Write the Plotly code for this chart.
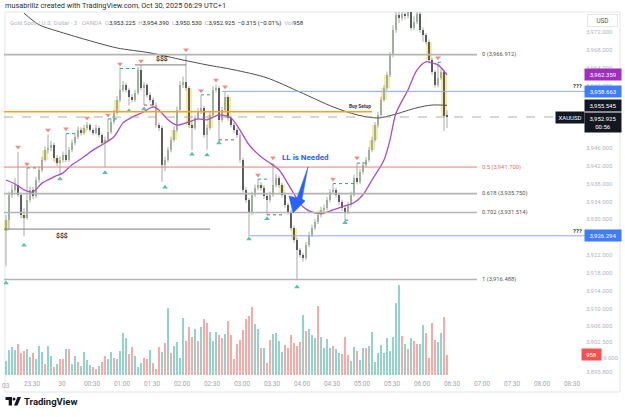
import plotly.graph_objects as go

# ---------------- data (3-minute candles, XAUUSD) ----------------
opens = [3927.4,3929.8,3935.5,3936.6,3937.7,3935.5,3930.9,3930.3,3934.3,3936.6,
3935.2,3938.8,3941.1,3943.3,3945.5,3946.0,3946.7,3943.7,3942.6,3943.3,
3944.4,3943.3,3945.5,3947.1,3948.5,3950.0,3949.4,3950.5,3951.1,3950.0,
3949.4,3950.5,3948.9,3947.1,3947.8,3949.6,3951.8,3953.8,3956.8,3959.0,
3960.1,3959.0,3957.4,3956.8,3958.3,3963.5,3959.4,3960.1,3957.9,3956.8,
3955.6,3951.1,3950.5,3942.2,3943.3,3945.5,3947.8,3950.0,3954.5,3960.1,
3960.8,3959.4,3951.1,3950.5,3952.7,3954.1,3954.9,3948.9,3950.5,3953.4,
3959.0,3959.4,3952.3,3954.5,3957.4,3952.7,3951.1,3950.0,3948.9,3943.3,
3936.6,3934.3,3931.4,3935.5,3937.0,3937.7,3937.0,3935.2,3934.3,3935.5,
3937.7,3939.3,3937.7,3935.5,3933.2,3931.6,3928.1,3925.4,3923.1,3922.0,
3921.3,3924.2,3926.5,3928.1,3929.4,3930.9,3932.1,3932.5,3934.3,3936.1,
3936.6,3935.5,3933.9,3932.5,3931.6,3933.2,3935.5,3939.3,3938.4,3940.6,
3942.2,3943.3,3945.5,3947.8,3951.1,3953.4,3956.8,3959.4,3962.4,3966.8,
3972.4,3975.8,3975.1,3976.0,3975.6,3976.5,3972.9,3974.2,3976.0,3972.4,
3971.3,3969.8,3965.7,3963.0,3960.1,3961.7,3963.0,3953.2]
highs = [3931.0,3936.2,3937.8,3939.2,3945.1,3936.0,3932.5,3941.5,3937.4,3937.3,
3939.5,3941.9,3944.0,3946.3,3949.0,3947.5,3947.2,3944.4,3944.1,3945.2,
3949.2,3946.2,3947.9,3949.3,3950.8,3950.6,3951.2,3951.8,3951.5,3950.4,
3951.2,3950.9,3949.3,3948.5,3952.5,3952.6,3954.6,3957.6,3964.0,3961.0,
3960.6,3959.5,3958.0,3959.0,3964.2,3964.6,3960.8,3960.5,3958.4,3957.3,
3956.2,3951.7,3951.0,3944.0,3946.2,3948.5,3950.8,3955.3,3961.0,3962.0,
3966.9,3959.9,3951.8,3953.4,3954.9,3957.9,3955.4,3951.2,3954.1,3959.8,
3960.2,3959.9,3955.2,3958.6,3957.9,3953.2,3951.6,3950.5,3949.4,3943.8,
3937.2,3934.8,3936.2,3937.8,3939.0,3938.3,3937.5,3935.8,3936.2,3942.6,
3940.2,3939.8,3938.2,3936.0,3933.7,3932.1,3928.6,3925.9,3923.6,3922.5,
3924.9,3927.2,3928.8,3930.1,3931.6,3932.8,3933.3,3935.0,3936.8,3938.0,
3937.1,3936.0,3934.4,3933.0,3933.9,3936.2,3940.0,3942.6,3941.3,3942.9,
3944.0,3946.2,3948.5,3951.8,3954.1,3957.5,3960.1,3963.1,3967.5,3973.5,
3977.5,3977.0,3977.8,3977.5,3978.0,3977.5,3975.5,3977.5,3976.8,3973.0,
3971.8,3970.3,3966.2,3963.5,3965.2,3963.7,3963.5,3954.4]
lows = [3919.5,3927.8,3934.8,3936.0,3935.0,3930.2,3926.1,3929.9,3933.8,3934.5,
3934.8,3938.2,3940.6,3942.9,3944.8,3945.2,3943.0,3941.9,3940.3,3942.7,
3942.8,3942.9,3945.0,3946.6,3948.0,3948.8,3948.9,3950.0,3949.5,3948.8,
3949.0,3948.3,3946.5,3941.7,3947.3,3949.1,3951.3,3953.3,3956.3,3958.5,
3958.4,3955.5,3956.2,3956.3,3957.9,3958.9,3955.6,3957.3,3956.2,3955.0,
3950.5,3949.8,3938.4,3940.8,3942.8,3945.0,3947.3,3949.5,3954.0,3959.4,
3958.8,3950.5,3945.5,3950.0,3952.2,3953.6,3948.3,3945.6,3950.0,3952.9,
3958.4,3947.3,3951.8,3954.0,3952.1,3950.6,3949.4,3948.3,3942.7,3936.0,
3933.7,3926.5,3930.9,3935.0,3936.5,3936.4,3934.6,3931.0,3933.8,3935.0,
3937.2,3937.1,3934.9,3932.6,3931.0,3927.5,3924.8,3916.5,3921.4,3920.5,
3920.8,3923.7,3926.0,3927.6,3928.9,3930.4,3931.6,3932.0,3933.8,3935.6,
3934.9,3933.3,3931.9,3929.8,3931.1,3932.7,3935.0,3937.8,3937.9,3940.1,
3941.7,3942.8,3945.0,3947.3,3950.6,3952.9,3956.3,3958.9,3961.9,3966.3,
3971.8,3974.0,3974.5,3974.8,3975.0,3972.3,3972.4,3973.7,3971.8,3969.8,
3969.2,3965.1,3962.4,3959.5,3959.6,3961.2,3949.8,3950.5]
closes = [3929.8,3935.5,3936.6,3937.7,3935.5,3930.9,3930.3,3934.3,3936.6,3935.2,
3938.8,3941.1,3943.3,3945.5,3946.0,3946.7,3943.7,3942.6,3943.3,3944.4,
3943.3,3945.5,3947.1,3948.5,3950.0,3949.4,3950.5,3951.1,3950.0,3949.4,
3950.5,3948.9,3947.1,3947.8,3949.6,3951.8,3953.8,3956.8,3959.0,3960.1,
3959.0,3957.4,3956.8,3958.3,3963.5,3959.4,3960.1,3957.9,3956.8,3955.6,
3951.1,3950.5,3942.2,3943.3,3945.5,3947.8,3950.0,3954.5,3960.1,3960.8,
3959.4,3951.1,3950.5,3952.7,3954.1,3954.9,3948.9,3950.5,3953.4,3959.0,
3959.4,3952.3,3954.5,3957.4,3952.7,3951.1,3950.0,3948.9,3943.3,3936.6,
3934.3,3931.4,3935.5,3937.0,3937.7,3937.0,3935.2,3934.3,3935.5,3937.7,
3939.3,3937.7,3935.5,3933.2,3931.6,3928.1,3925.4,3923.1,3922.0,3921.3,
3924.2,3926.5,3928.1,3929.4,3930.9,3932.1,3932.5,3934.3,3936.1,3936.6,
3935.5,3933.9,3932.5,3931.6,3933.2,3935.5,3939.3,3938.4,3940.6,3942.2,
3943.3,3945.5,3947.8,3951.1,3953.4,3956.8,3959.4,3962.4,3966.8,3972.4,
3975.8,3975.1,3976.0,3975.6,3976.5,3972.9,3974.2,3976.0,3972.4,3971.3,
3969.8,3965.7,3963.0,3960.1,3961.7,3963.0,3953.2,3952.925]

volumes = [688,1200,1328,1200,1488,1072,1168,1232,880,1040,
768,1392,1104,512,1392,912,400,528,752,752,
1248,1232,512,928,624,432,1104,704,464,384,
288,432,608,912,752,1104,800,752,1152,2032,
1760,992,1328,912,368,560,832,768,1200,560,
304,1360,1120,1536,3200,1056,1408,1584,816,2720,
1632,2288,1808,2224,1632,2288,2672,2480,2048,1648,
2048,1920,1792,1984,2592,1904,752,1504,1680,2160,
2672,2832,3248,2448,2192,1296,1296,592,1664,1968,
2000,1632,1120,1424,1296,1904,1552,1376,1584,2896,
2096,2192,1920,1760,3328,1840,1296,1712,1296,1376,
1232,1072,1008,1824,944,688,1360,1168,736,1296,
1296,1392,2064,624,1040,1424,1072,1776,1136,1840,
3472,4320,1888,1488,1248,1760,1648,1488,1488,2400,
2032,800,2480,1696,1600,2000,2768,958]
volume_dir = list("ggggrrrggr" "gggrggrgrr" "grggrggggr" "rgrrggrggg" "grrgggrrgr"
                  "rrgrgrgggg" "rrrgrgrrgg" "grrgrrrrrr" "rrrggrgrrg" "gggrrrrrrg"
                  "rgggrggggr" "ggrrrggrgg" "rggggggggg" "ggrgrgrrgg" "rrrrggrr")

highlight_yellow = [0,6,13,17,26,33,37,56,61,62,68,74,85,92,96,105,122,123,126,127,141,146]
highlight_pink = [50,78]

ema_idx = [0,3,6,9,12,16,19,22,26,29,32,36,39,42,46,49,51,54,57,60,64,67,71,75,78,81,
           85,88,91,95,97,99,102,106,109,112,116,119,122,126,128,130,134,137,140,142,144,147]
ema_val = [3938.8,3937.9,3936.6,3936.1,3938.1,3939.5,3940.4,3942.2,3944.0,3945.5,3946.7,3948.5,
           3951.6,3952.9,3954.1,3955.2,3954.5,3952.3,3951.1,3951.6,3952.5,3952.3,3953.4,3952.7,
           3950.0,3946.7,3944.0,3942.6,3941.1,3936.8,3934.6,3932.8,3931.6,3931.4,3932.1,3932.8,
           3933.7,3935.5,3938.8,3943.3,3947.8,3953.8,3959.0,3963.5,3965.3,3965.0,3964.6,3962.359]
sma_idx = [6,11,17,27,37,48,59,67,76,87,98,109,117,124,129,137,142,147]
sma_val = [3976.2,3973.6,3972.2,3970.2,3968.4,3967.3,3965.7,3964.6,3963.5,3961.7,3958.5,
           3955.2,3953.4,3952.7,3953.4,3955.0,3955.6,3955.545]

pivot_high_idx = [4,7,14,20,27,34,38,45,60,65,70,73,84,89,109,117,144]
pivot_high_px = [3946.2,3942.4,3950.0,3950.3,3952.7,3953.4,3964.8,3965.5,3968.0,3958.8,
                 3961.2,3959.7,3939.9,3943.8,3939.0,3943.8,3966.2]
pivot_low_idx = [0,6,18,33,41,46,53,62,67,71,81,87,97,113]
pivot_low_px = [3915.7,3924.2,3939.0,3940.4,3954.3,3954.7,3937.2,3944.6,3944.4,3947.1,
                3925.6,3930.1,3914.8,3929.2]

# dotted swing segments: (start index, end index, price)
swing_high_dots = [(7,10,3941.5),(20,24,3949.2),(34,37,3952.5),(38,44,3963.8),(65,68,3957.9),
                   (84,88,3939.0),(109,117,3938.0),(117,121,3942.6),(144,146,3965.2)]
swing_low_dots = [(46,49,3955.6),(71,76,3947.8),(87,92,3931.0),(113,115,3929.8)]

fib_ratio = ["0", "0.5", "0.618", "0.702", "1"]
fib_price = [3966.912, 3941.700, 3935.750, 3931.514, 3916.488]
buy_setup_price = 3954.1
question_prices = [3958.663, 3926.294]
question_start = [72, 80.7]
liquidity_prices = [3964.6, 3927.8]
liquidity_span = [(43, 60), (-0.67, 68)]
last_price = 3952.925
ema_last, sma_last = 3962.359, 3955.545
last_volume = 958

time_labels = ["23:30","30","00:30","01:00","01:30","02:00","02:30","03:00","03:30","04:00",
               "04:30","05:00","05:30","06:00","06:30","07:00","07:30","08:00","08:30"]
price_ticks = [3972,3968,3964,3960,3946,3942,3938,3934,3930,3922,3918,3914,3910,3906,3902.5,3895.8]
hidden_tick = 3899.0   # mostly covered by the volume label; only its tail shows

# ---------------- layout geometry ----------------
W, H = 625, 417
LM, RM, TM, BM = 4, 40, 12, 39
PW, PH = W - LM - RM, H - TM - BM
X0, X1 = -0.667, 193.0
Y0, Y1 = 3894.42, 3976.46
V0, V1 = -144, 17386

def pxx(xp):
    return (xp - LM) / PW

def pxy(yp):
    return (H - BM - yp) / PH

FONT = "Roboto"
GREEN = "#93bb8c"
BLACK = "#111111"
PINK = "#f3a3a3"
YELLOW = "#f8ec9c"
TEAL_V = "#92d3cc"
RED_V = "#f7aaa8"

N = len(closes)
idx = list(range(N))

fig = go.Figure()

# volume
fig.add_trace(go.Bar(x=idx, y=volumes, yaxis="y2", width=0.72,
                     marker=dict(color=[TEAL_V if d == "g" else RED_V for d in volume_dir], line_width=0),
                     hoverinfo="skip", showlegend=False))

# yellow highlight boxes behind candles
fig.add_trace(go.Bar(x=highlight_yellow,
                     y=[max(abs(closes[i] - opens[i]), 0.6) for i in highlight_yellow],
                     base=[min(closes[i], opens[i]) for i in highlight_yellow],
                     width=1.7, marker=dict(color=YELLOW, line_width=0), showlegend=False, hoverinfo="skip"))

# wicks
wx, wy = [], []
for i in idx:
    wx += [i, i, None]
    wy += [lows[i], highs[i], None]
fig.add_trace(go.Scatter(x=wx, y=wy, mode="lines", line=dict(color="#a9a9a9", width=1),
                         showlegend=False, hoverinfo="skip"))

# bodies
body_col = []
for i in idx:
    if i in highlight_pink:
        body_col.append(PINK)
    elif closes[i] >= opens[i]:
        body_col.append(GREEN)
    else:
        body_col.append(BLACK)
fig.add_trace(go.Bar(x=idx, y=[max(abs(c - o), 0.15) for o, c in zip(opens, closes)],
                     base=[min(o, c) for o, c in zip(opens, closes)], width=0.8,
                     marker=dict(color=body_col, line_width=0), showlegend=False, hoverinfo="skip"))

# moving averages
fig.add_trace(go.Scatter(x=sma_idx, y=sma_val, mode="lines", line=dict(color="#4d4d4d", width=1, shape="spline", smoothing=0.8),
                         showlegend=False, hoverinfo="skip"))
fig.add_trace(go.Scatter(x=ema_idx, y=ema_val, mode="lines", line=dict(color="#ad4cc8", width=1.3, shape="spline", smoothing=0.8),
                         showlegend=False, hoverinfo="skip"))

# pivot markers
fig.add_trace(go.Scatter(x=pivot_high_idx, y=pivot_high_px, mode="markers",
                         marker=dict(symbol="triangle-down", size=5, color="#f28b82"), showlegend=False, hoverinfo="skip"))
fig.add_trace(go.Scatter(x=pivot_low_idx, y=pivot_low_px, mode="markers",
                         marker=dict(symbol="triangle-up", size=5, color="#5bbfb0"), showlegend=False, hoverinfo="skip"))

shapes = []
def hline(x0, x1, y, color, width=1, dash="solid"):
    shapes.append(dict(type="line", xref="x", yref="y", x0=x0, x1=x1, y0=y, y1=y,
                       line=dict(color=color, width=width, dash=dash)))

FIB_END = 157
for r, p in zip(fib_ratio, fib_price):
    if r == "0.5":
        hline(X0, FIB_END, p, "#f47a7a", 1)
    else:
        hline(X0, FIB_END, p, "#b4b4b4", 1.6)
hline(X0, 122, buy_setup_price, "#ff9f1c", 1.6)
for p, s in zip(question_prices, question_start):
    hline(s, X1, p, "#8ea8ff", 1)
hline(X0, 183.3, last_price, "#9a9a9a", 0.8, "dash")
for p, (a, b) in zip(liquidity_prices, liquidity_span):
    hline(a, b, p, "#7a7a7a", 1)
for a, b, p in swing_high_dots:
    hline(a, b, p, "#26a69a", 1, "dot")
for a, b, p in swing_low_dots:
    hline(a, b, p, "#a0525a", 1, "dot")

# blue arrow drawing
shapes.append(dict(type="path", xref="x", yref="y",
                   path="M 100.67,3941.73 L 98.67,3934.56 L 99.67,3934.11 L 95.67,3931.42 L 94.33,3935.23 L 97,3934.78 Z",
                   fillcolor="#2962ff", line=dict(color="#2962ff", width=0.5)))

# frame
shapes.append(dict(type="rect", xref="paper", yref="paper", x0=pxx(5), x1=pxx(620), y0=pxy(392), y1=pxy(12),
                   line=dict(color="#e3e5ea", width=1), layer="below"))

# TradingView logo mark
def prect(x0, y0, x1, y1, color="#131722"):
    shapes.append(dict(type="rect", xref="paper", yref="paper", x0=pxx(x0), x1=pxx(x1), y0=pxy(y1), y1=pxy(y0),
                       fillcolor=color, line_width=0))
prect(5.5, 397, 12, 400)
prect(8.7, 397, 12, 405.5)
shapes.append(dict(type="circle", xref="paper", yref="paper", x0=pxx(12.5), x1=pxx(15.5), y0=pxy(400.5), y1=pxy(397.5),
                   fillcolor="#131722", line_width=0))
shapes.append(dict(type="path", xref="paper", yref="paper",
                   path=f"M {pxx(14)},{pxy(405.5)} L {pxx(17.5)},{pxy(397)} L {pxx(21)},{pxy(397)} L {pxx(17.5)},{pxy(405.5)} Z",
                   fillcolor="#131722", line_width=0))

ann = []
def note(text, x, y, xref="paper", yref="paper", size=6.5, color="#333", xanchor="left", yanchor="middle", **kw):
    d = dict(text=text, x=x, y=y, xref=xref, yref=yref, showarrow=False, xanchor=xanchor, yanchor=yanchor,
             font=dict(family=FONT, size=size, color=color))
    d.update(kw)
    ann.append(d)

note("musabrillz created with TradingView.com, Oct 30, 2025 06:29 UTC+1", pxx(3), pxy(6), size=7.3, color="#2a2e39")
g = "#b2b5be"
hdr = (f"<span style='color:{g}'>Gold Spot / U.S. Dollar · 3 · OANDA</span>  "
       f"<span style='color:{g}'>O</span>3,953.225  <span style='color:{g}'>H</span>3,954.390  "
       f"<span style='color:{g}'>L</span>3,950.530  <span style='color:{g}'>C</span>3,952.925  "
       f"−0.315 (−0.01%)  <span style='color:{g}'>Vol</span>958")
note(hdr, pxx(8), pxy(23), size=6.0, color="#2a2e39")

for r, p in zip(fib_ratio, fib_price):
    txt = f"{r} ({p:,.3f})"
    note(txt, 158, p, xref="x", yref="y", size=5.8, color="#f26b6b" if r == "0.5" else "#555")

note("<b>Buy Setup</b>", 118, buy_setup_price, xref="x", yref="y", size=4.8, xanchor="center", yanchor="bottom", yshift=1)
for p in question_prices:
    note("<b>???</b>", pxx(584), p, yref="y", size=6, xanchor="right", yanchor="bottom", yshift=0)
note("<b>$$$</b>", 52, liquidity_prices[0], xref="x", yref="y", size=6.8, xanchor="center", yanchor="bottom", yshift=0)
note("<b>$$$</b>", 18.7, liquidity_prices[1], xref="x", yref="y", size=6.8, xanchor="center", yanchor="top", yshift=-1)
note("<b>LL is Needed</b>", 99.7, 3943.75, xref="x", yref="y", size=8, color="#2962ff", xanchor="center")

# right price-scale labels
def plabel(text, y, bg, yref="y", xc=602.5, w=34, h=9, **kw):
    note(text, pxx(xc), y, yref=yref, size=6, color="white", xanchor="center",
         bgcolor=bg, width=w, height=h, **kw)
plabel(f"{ema_last:,.3f}", ema_last, "#a02ebf")
plabel(f"{question_prices[0]:,.3f}", question_prices[0], "#3f7bff")
plabel(f"{sma_last:,.3f}", sma_last, "#131722")
plabel(f"{last_price:,.3f}<br>00:56", last_price, "#131722", h=17, yanchor="top", yshift=5)
plabel("XAUUSD", last_price, "#131722", xc=570, w=26)
plabel(f"{question_prices[1]:,.3f}", question_prices[1], "#3f7bff")
plabel(f"{last_volume}", last_volume, "#f05350", yref="y2", xc=591.5, w=17)
# visible tail of the partly hidden axis label
note(f"{hidden_tick:,.3f}"[-5:], pxx(601), hidden_tick, yref="y", size=6, color="#b2b5be")
note("USD", pxx(602.5), pxy(20), size=6.3, color="#555", xanchor="center", bordercolor="#e3e5ea",
     borderwidth=1, width=27, height=9)

note("03", pxx(6), pxy(386), size=6.5, color="#a3a6af", xanchor="center")
note("<b>TradingView</b>", pxx(22), pxy(401.5), size=9.5, color="#131722")

fig.update_layout(
    width=W, height=H, margin=dict(l=LM, r=RM, t=TM, b=BM),
    paper_bgcolor="white", plot_bgcolor="white",
    barmode="overlay", bargap=0, showlegend=False,
    font=dict(family=FONT),
    shapes=shapes, annotations=ann,
    xaxis=dict(range=[X0, X1], showgrid=False, zeroline=False, showline=False, ticks="",
               tickvals=[8.67 + 10 * k for k in range(len(time_labels))], ticktext=time_labels,
               tickfont=dict(size=6.5, color="#a3a6af", family=FONT), fixedrange=True),
    yaxis=dict(range=[Y0, Y1], side="right", showgrid=False, zeroline=False, showline=False, ticks="",
               tickvals=price_ticks, ticktext=[f"{v:,.3f}" for v in price_ticks],
               tickfont=dict(size=6, color="#b2b5be", family=FONT)),
    yaxis2=dict(range=[V0, V1], overlaying="y", visible=False),
)

fig.write_html("out.html")
